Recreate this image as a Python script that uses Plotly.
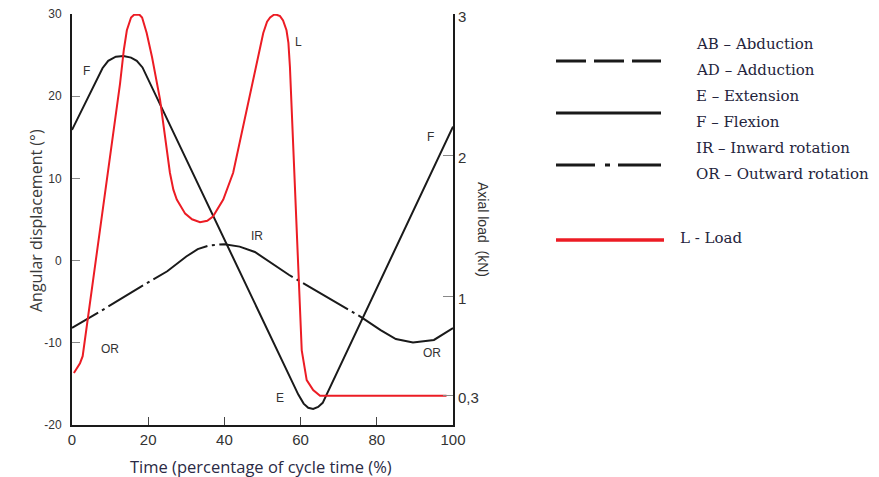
import numpy as np
import plotly.graph_objects as go

# ---------------- data ----------------
# Flexion / extension (deg)
fe_x = [0, 8, 9.5, 11.5, 13.5, 15.5, 17, 18.5, 59.4, 60.8, 62, 63.3, 64.6, 65.8, 100]
fe_y = [15.9, 23.4, 24.3, 24.8, 24.9, 24.7, 24.3, 23.5, -16.3, -17.4, -17.9, -18.05, -17.8, -17.3, 16.3]

# Inward / outward rotation (deg)
rot_x = [0, 7, 18, 25, 30, 33, 36, 40, 44, 48, 57, 72, 76, 81, 85, 89.5, 95, 100]
rot_y = [-8.2, -6.3, -3.2, -1.3, 0.5, 1.4, 1.85, 2.0, 1.7, 1.05, -1.75, -5.8, -6.9, -8.45, -9.55, -9.95, -9.65, -8.2]

# Axial load (kN)
load_x = [0.5, 2.1, 2.8, 7.3, 12.6, 13.6, 14.4, 15.5, 16.3, 17.0, 17.7, 18.4, 19.6, 21.0, 23.1, 25.7,
          26.6, 27.5, 29.7, 31.5, 33.6, 35.5, 37.0, 39.7, 42.3, 50.2, 51.2, 52.0, 53.0, 53.7, 54.6,
          55.4, 56.3, 56.8, 57.2, 60.3, 61.0, 61.6, 63.3, 65.1, 98.3]
load_v = [0.46, 0.53, 0.58, 1.48, 2.51, 2.75, 2.89, 2.98, 3.0, 3.0, 3.0, 2.98, 2.87, 2.70, 2.40, 1.88,
          1.76, 1.69, 1.59, 1.55, 1.53, 1.54, 1.57, 1.69, 1.88, 2.87, 2.95, 2.98, 3.0, 3.0, 2.99,
          2.96, 2.89, 2.80, 2.63, 0.62, 0.50, 0.41, 0.34, 0.3, 0.3]

x_ticks = [0, 20, 40, 60, 80, 100]
y_ticks = [-20, -10, 0, 10, 20, 30]
y_ticktext = ["-20", "-10", "0", "10", "20", "30"]
y2_ticks = [0.3, 1, 2, 3]
y2_ticktext = ["0,3", "1", "2", "3"]

legend_items = ["AB – Abduction", "AD – Adduction", "E – Extension", "F – Flexion",
                "IR – Inward rotation", "OR – Outward rotation"]
load_label = "L - Load"

# ---------------- layout constants ----------------
W, H = 879, 477
OFF = 8                       # page (body) offset of the figure
ML, MT = 72 - OFF, 14 - OFF
PW, PH = 381, 411
MR = W - ML - PW
MB = H - MT - PH
XR = [0, 100]
YR = [-20, 30]
Y2R = [0.092, 3.005]

def pxp(px):
    return (px - OFF - ML) / PW

def pyp(py):
    return (MT + PH - (py - OFF)) / PH

# dash pattern for rotation curve (dots at these x positions)
dot_at = [8.2, 20.0, 37.1, 59.3, 73.8]
sx = PW / (XR[1] - XR[0])
sy = PH / (YR[1] - YR[0])
rx = np.array(rot_x) * sx
ry = np.array(rot_y) * sy
seg = np.hypot(np.diff(rx), np.diff(ry))
cum = np.concatenate([[0], np.cumsum(seg)])
s_dots = np.interp(dot_at, rot_x, cum)
gap, dot = 4.5, 3.0
parts = []
cur = 0.0
for s in s_dots:
    parts += [s - dot / 2 - gap - cur, gap, dot, gap]
    cur = s + dot / 2 + gap
parts += [cum[-1] - cur + 60, 1]
rot_dash = ",".join(f"{p:.1f}px" for p in parts)

RED = "#ec1c24"
BLK = "#1a1a1a"

fig = go.Figure()
fig.add_trace(go.Scatter(x=fe_x, y=fe_y, mode="lines",
                         line=dict(color=BLK, width=2), hoverinfo="skip", showlegend=False))
fig.add_trace(go.Scatter(x=rot_x, y=rot_y, mode="lines",
                         line=dict(color=BLK, width=2, dash=rot_dash), hoverinfo="skip", showlegend=False))
fig.add_trace(go.Scatter(x=load_x, y=load_v, mode="lines", yaxis="y2",
                         line=dict(color=RED, width=2), hoverinfo="skip", showlegend=False))

tickfont_l = dict(family="Liberation Sans, Arial", size=12, color="#333333")
tickfont_b = dict(family="Liberation Sans, Arial", size=15, color="#333333")

fig.update_layout(
    template="none",
    width=W, height=H,
    margin=dict(l=ML, r=MR, t=MT, b=MB, autoexpand=False),
    paper_bgcolor="white", plot_bgcolor="white",
    xaxis=dict(range=XR, tickvals=x_ticks, showgrid=False, zeroline=False,
               showline=True, linecolor="#1a1a1a", linewidth=2,
               ticks="inside", ticklen=8, tickcolor="#444", tickwidth=1,
               tickfont=tickfont_b, automargin=False, ticklabeloverflow="allow"),
    yaxis=dict(range=YR, tickvals=y_ticks, ticktext=y_ticktext, showgrid=False, zeroline=False,
               showline=True, linecolor="#1a1a1a", linewidth=2,
               ticks="inside", ticklen=8, tickcolor="#888", tickwidth=1,
               tickfont=tickfont_l, ticklabelstandoff=6, automargin=False,
               ticklabeloverflow="allow"),
    yaxis2=dict(range=Y2R, overlaying="y", side="right", tickvals=y2_ticks,
                ticktext=y2_ticktext, showgrid=False, zeroline=False,
                showline=True, linecolor="#1a1a1a", linewidth=2,
                ticks="inside", ticklen=10, tickcolor="#888", tickwidth=1,
                tickfont=tickfont_b, automargin=False, ticklabeloverflow="allow",
                ticklabelshift=2),
)

ann = []
# curve labels
lab_font = dict(family="Liberation Sans, Arial", size=12, color="#333333")
for txt, x, y in [("F", 3.7, 23.1), ("L", 59.4, 26.6), ("IR", 48.6, 3.05), ("OR", 10.0, -10.7),
                  ("OR", 94.4, -11.2), ("E", 54.6, -16.75), ("F", 94.0, 15.0)]:
    ann.append(dict(text=txt, x=x, y=y, xref="x", yref="y", showarrow=False, font=lab_font,
                    xanchor="center", yanchor="middle"))

# axis titles
ann.append(dict(text="Angular displacement (°)", x=pxp(36), y=pyp(221), xref="paper", yref="paper",
                showarrow=False, textangle=-90, xanchor="center", yanchor="middle",
                font=dict(family="Open Sans", size=16, color="#3a3a3a")))
ann.append(dict(text="Time (percentage of cycle time (%)", x=pxp(261), y=pyp(466), xref="paper",
                yref="paper", showarrow=False, xanchor="center", yanchor="middle",
                font=dict(family="Open Sans", size=16.5, color="#2a2a45")))
ann.append(dict(text="Axial load  (kN)", x=pxp(483), y=pyp(229), xref="paper", yref="paper",
                showarrow=False, textangle=90, xanchor="center", yanchor="middle",
                font=dict(family="Liberation Sans, Arial", size=14, color="#333333")))

# legend text
leg_font = dict(family="DejaVu Serif", size=15, color="#24243c")
for i, t in enumerate(legend_items):
    ann.append(dict(text=t, x=pxp(694), y=pyp(44 + i * 26), xref="paper", yref="paper",
                    xanchor="left", yanchor="middle", showarrow=False, font=leg_font))
ann.append(dict(text=load_label, x=pxp(678), y=pyp(238), xref="paper", yref="paper",
                xanchor="left", yanchor="middle", showarrow=False, font=leg_font))

shapes = [
    dict(type="line", xref="paper", yref="paper", x0=pxp(556), x1=pxp(661), y0=pyp(61), y1=pyp(61),
         line=dict(color=BLK, width=3, dash="30px,8px")),
    dict(type="line", xref="paper", yref="paper", x0=pxp(556), x1=pxp(661), y0=pyp(113), y1=pyp(113),
         line=dict(color=BLK, width=3)),
    dict(type="line", xref="paper", yref="paper", x0=pxp(556), x1=pxp(661), y0=pyp(165), y1=pyp(165),
         line=dict(color=BLK, width=3, dash="39px,10px,5px,8px,60px,1px")),
    dict(type="line", xref="paper", yref="paper", x0=pxp(556), x1=pxp(664), y0=pyp(240), y1=pyp(240),
         line=dict(color=RED, width=3.5)),
]

fig.update_layout(annotations=ann, shapes=shapes)
fig.write_html("out.html")
